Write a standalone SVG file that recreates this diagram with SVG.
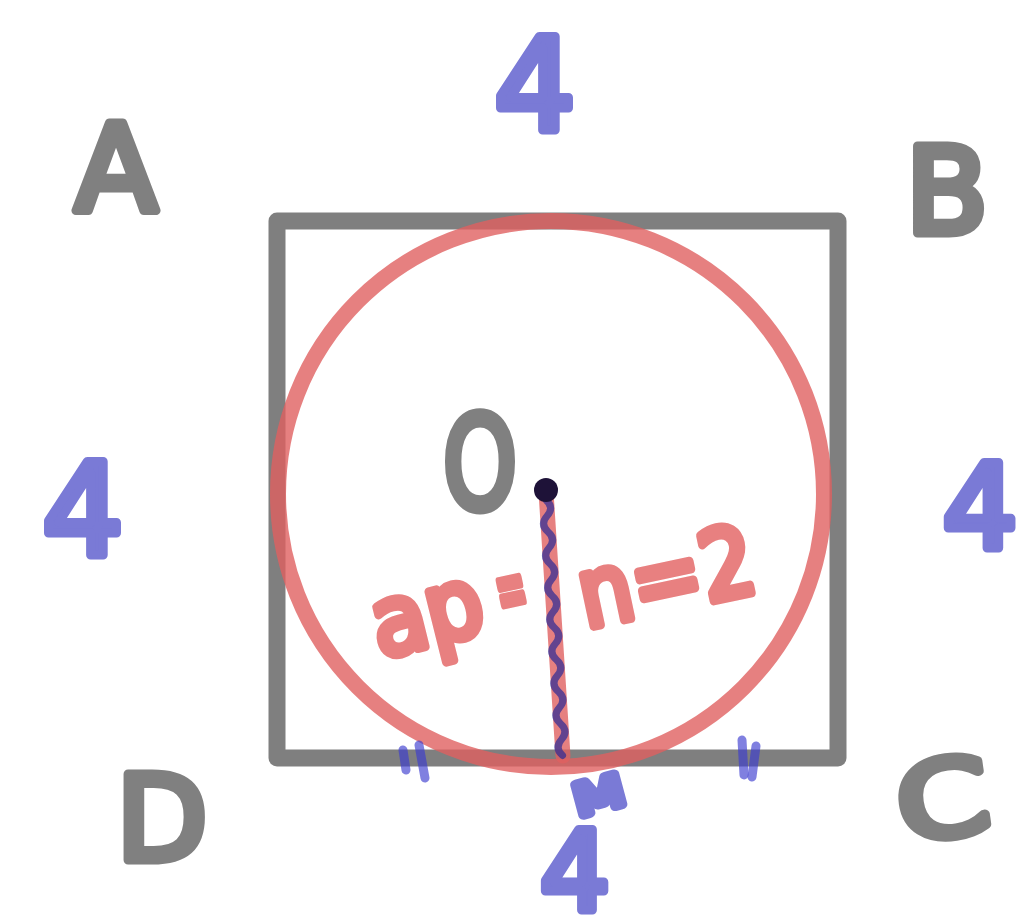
<svg xmlns="http://www.w3.org/2000/svg" width="1025" height="923" viewBox="0 0 1025 923">
<style>
.g{font-family:"DejaVu Sans",sans-serif;fill:#808080;stroke:#808080;stroke-width:9;stroke-linejoin:round;text-anchor:middle}
.b{font-family:"DejaVu Sans",sans-serif;fill:#7a7ad6;stroke:#7a7ad6;stroke-width:9;stroke-linejoin:round;text-anchor:middle}
.r{font-family:"DejaVu Sans",sans-serif;fill:#e88080;stroke:#e88080;stroke-width:9;stroke-linejoin:round}
.tick{stroke:#3c3cd0;stroke-opacity:0.65;stroke-width:9;stroke-linecap:round;fill:none}
</style>
<rect width="1025" height="923" fill="#ffffff"/>
<g id="square">
<rect x="277" y="221" width="561" height="537" fill="none" stroke="#000" stroke-opacity="0.5" stroke-width="17" stroke-linejoin="round"/>
</g>
<g id="circle">
<circle cx="551" cy="494" r="273" fill="none" stroke="#e06060" stroke-opacity="0.8" stroke-width="16"/>
</g>
<g id="radius">
<line x1="546" y1="492" x2="563" y2="756" stroke="#e06060" stroke-opacity="0.8" stroke-width="15" stroke-linecap="round"/>
<path d="M546,500 q8,8 0,16 q-8,8 0,16 q8,8 0,16 q-8,8 0,16 q8,8 0,16 q-8,8 0,16 q8,8 0,16 q-8,8 0,16 q8,8 0,16 q-8,8 0,16 q8,8 0,16 q-8,8 0,16 q8,8 0,16 q-8,8 0,16 q8,8 0,16 q-8,8 0,16" transform="rotate(-3.7 546 500)" fill="none" stroke="#2a2a95" stroke-opacity="0.7" stroke-width="7" stroke-linecap="round"/>
<circle cx="546" cy="490" r="12" fill="#1e1238"/>
</g>
<g id="ticks">
<line class="tick" x1="403" y1="750" x2="406" y2="770"/>
<line class="tick" x1="419" y1="745" x2="425" y2="778"/>
<line class="tick" x1="742" y1="740" x2="744" y2="775"/>
<line class="tick" x1="756" y1="746" x2="752" y2="777"/>
</g>
<g id="labels">
<text class="g" x="116" y="210" font-size="120">A</text>
<text class="g" x="947" y="233" font-size="120">B</text>
<text class="g" x="948" y="836" font-size="105" textLength="92" lengthAdjust="spacingAndGlyphs" transform="rotate(-8 948 836)">C</text>
<text class="g" x="162" y="860" font-size="118">D</text>
<text class="g" x="480" y="508" font-size="128" textLength="74" lengthAdjust="spacingAndGlyphs">O</text>
<text class="b" x="535" y="130" font-size="128">4</text>
<text class="b" x="83" y="555" font-size="128">4</text>
<text class="b" x="980" y="548" font-size="118">4</text>
<text class="b" x="575" y="910" font-size="110">4</text>
<text class="b" x="603" y="810" font-size="44" stroke-width="5" textLength="50" lengthAdjust="spacingAndGlyphs" transform="rotate(-15 603 810)">M</text>
<g id="equation">
<text class="r" x="380" y="658" font-size="96" textLength="112" lengthAdjust="spacingAndGlyphs" transform="rotate(-14 380 658)">ap</text>
<text class="r" x="502" y="620" font-size="84" stroke-width="2" textLength="30" lengthAdjust="spacingAndGlyphs" transform="rotate(-12 502 620)">=</text>
<text class="r" x="586" y="628" font-size="96" textLength="178" lengthAdjust="spacingAndGlyphs" transform="rotate(-12 586 628)">n=2</text>
</g>
</g>
</svg>
